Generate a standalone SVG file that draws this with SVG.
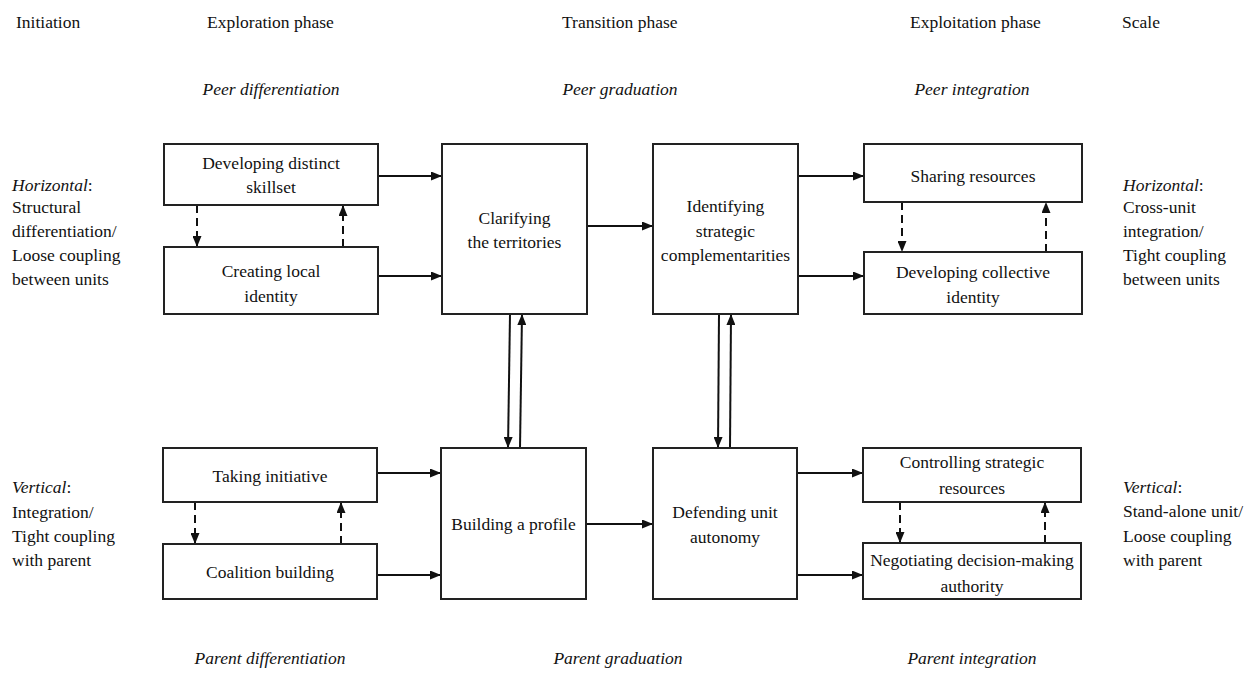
<svg xmlns="http://www.w3.org/2000/svg" width="1255" height="675" viewBox="0 0 1255 675">
  <defs>
    <marker id="arrow" viewBox="0 0 11 9" refX="11" refY="4.5" markerWidth="11" markerHeight="9" markerUnits="userSpaceOnUse" orient="auto">
      <path d="M0,0 L11,4.5 L0,9 Z" fill="#111"/>
    </marker>
    <style>
      text { font-family: "Liberation Serif", "Times New Roman", serif; font-size: 17.5px; fill: #111; }
      .it { font-style: italic; }
      .c { text-anchor: middle; }
      .box { fill: #fff; stroke: #222; stroke-width: 2; }
      .link { fill: none; stroke: #111; stroke-width: 2; marker-end: url(#arrow); }
      .dash { stroke-dasharray: 8 5; }
    </style>
  </defs>
  <rect width="1255" height="675" fill="#fff"/>

  <!-- column headings -->
  <g id="headings">
    <text x="16" y="28">Initiation</text>
    <text x="207" y="28">Exploration phase</text>
    <text x="562" y="28">Transition phase</text>
    <text x="910" y="28">Exploitation phase</text>
    <text x="1122" y="28">Scale</text>
    <text class="it c" x="271" y="95">Peer differentiation</text>
    <text class="it c" x="620" y="95">Peer graduation</text>
    <text class="it c" x="972" y="95">Peer integration</text>
    <text class="it c" x="270" y="664">Parent differentiation</text>
    <text class="it c" x="618" y="664">Parent graduation</text>
    <text class="it c" x="972" y="664">Parent integration</text>
  </g>

  <!-- scale descriptions -->
  <g id="scale-left">
    <text x="12" y="191"><tspan class="it">Horizontal</tspan>:</text>
    <text x="12" y="213">Structural</text>
    <text x="12" y="237">differentiation/</text>
    <text x="12" y="261">Loose coupling</text>
    <text x="12" y="285">between units</text>
    <text x="12" y="493"><tspan class="it">Vertical</tspan>:</text>
    <text x="12" y="518">Integration/</text>
    <text x="12" y="542">Tight coupling</text>
    <text x="12" y="566">with parent</text>
  </g>
  <g id="scale-right">
    <text x="1123" y="191"><tspan class="it">Horizontal</tspan>:</text>
    <text x="1123" y="213">Cross-unit</text>
    <text x="1123" y="237">integration/</text>
    <text x="1123" y="261">Tight coupling</text>
    <text x="1123" y="285">between units</text>
    <text x="1123" y="493"><tspan class="it">Vertical</tspan>:</text>
    <text x="1123" y="517">Stand-alone unit/</text>
    <text x="1123" y="542">Loose coupling</text>
    <text x="1123" y="566">with parent</text>
  </g>

  <!-- connectors -->
  <g id="connectors">
    <line class="link" x1="378" y1="176" x2="442" y2="176"/>
    <line class="link" x1="378" y1="276" x2="442" y2="276"/>
    <line class="link" x1="587" y1="226" x2="653" y2="226"/>
    <line class="link" x1="798" y1="176" x2="864" y2="176"/>
    <line class="link" x1="798" y1="276" x2="864" y2="276"/>
    <line class="link" x1="377" y1="473" x2="441" y2="473"/>
    <line class="link" x1="377" y1="575" x2="441" y2="575"/>
    <line class="link" x1="586" y1="524" x2="653" y2="524"/>
    <line class="link" x1="797" y1="473" x2="863" y2="473"/>
    <line class="link" x1="797" y1="575" x2="863" y2="575"/>

    <line class="link" x1="510" y1="314" x2="508" y2="448"/>
    <line class="link" x1="520" y1="448" x2="522" y2="314"/>
    <line class="link" x1="719" y1="314" x2="718" y2="448"/>
    <line class="link" x1="730" y1="448" x2="731" y2="314"/>

    <line class="link dash" x1="197" y1="205" x2="197" y2="247"/>
    <line class="link dash" x1="343" y1="247" x2="343" y2="205"/>
    <line class="link dash" x1="195" y1="502" x2="195" y2="544"/>
    <line class="link dash" x1="341" y1="544" x2="341" y2="502"/>
    <line class="link dash" x1="902" y1="202" x2="902" y2="252"/>
    <line class="link dash" x1="1046" y1="252" x2="1046" y2="202"/>
    <line class="link dash" x1="900" y1="502" x2="900" y2="543"/>
    <line class="link dash" x1="1045" y1="543" x2="1045" y2="502"/>
  </g>

  <!-- exploration phase -->
  <g id="developing-skillset">
    <rect class="box" x="164" y="144" width="214" height="61"/>
    <text class="c" x="271" y="169">Developing distinct</text>
    <text class="c" x="271" y="193">skillset</text>
  </g>
  <g id="local-identity">
    <rect class="box" x="164" y="247" width="214" height="67"/>
    <text class="c" x="271" y="277">Creating local</text>
    <text class="c" x="271" y="302">identity</text>
  </g>
  <g id="taking-initiative">
    <rect class="box" x="163" y="448" width="214" height="54"/>
    <text class="c" x="270" y="482">Taking initiative</text>
  </g>
  <g id="coalition-building">
    <rect class="box" x="163" y="544" width="214" height="55"/>
    <text class="c" x="270" y="578">Coalition building</text>
  </g>

  <!-- transition phase -->
  <g id="clarifying-territories">
    <rect class="box" x="442" y="144" width="145" height="170"/>
    <text class="c" x="514.5" y="224">Clarifying</text>
    <text class="c" x="514.5" y="248">the territories</text>
  </g>
  <g id="strategic-complementarities">
    <rect class="box" x="653" y="144" width="145" height="170"/>
    <text class="c" x="725.5" y="212">Identifying</text>
    <text class="c" x="725.5" y="237">strategic</text>
    <text class="c" x="725.5" y="261">complementarities</text>
  </g>
  <g id="building-profile">
    <rect class="box" x="441" y="448" width="145" height="151"/>
    <text class="c" x="513.5" y="530">Building a profile</text>
  </g>
  <g id="unit-autonomy">
    <rect class="box" x="653" y="448" width="144" height="151"/>
    <text class="c" x="725" y="518">Defending unit</text>
    <text class="c" x="725" y="543">autonomy</text>
  </g>

  <!-- exploitation phase -->
  <g id="sharing-resources">
    <rect class="box" x="864" y="144" width="218" height="58"/>
    <text class="c" x="973" y="182">Sharing resources</text>
  </g>
  <g id="collective-identity">
    <rect class="box" x="864" y="252" width="218" height="62"/>
    <text class="c" x="973" y="278">Developing collective</text>
    <text class="c" x="973" y="303">identity</text>
  </g>
  <g id="strategic-resources">
    <rect class="box" x="863" y="448" width="218" height="54"/>
    <text class="c" x="972" y="468">Controlling strategic</text>
    <text class="c" x="972" y="494">resources</text>
  </g>
  <g id="decision-authority">
    <rect class="box" x="863" y="543" width="218" height="56"/>
    <text class="c" x="972" y="566">Negotiating decision-making</text>
    <text class="c" x="972" y="592">authority</text>
  </g>
</svg>
